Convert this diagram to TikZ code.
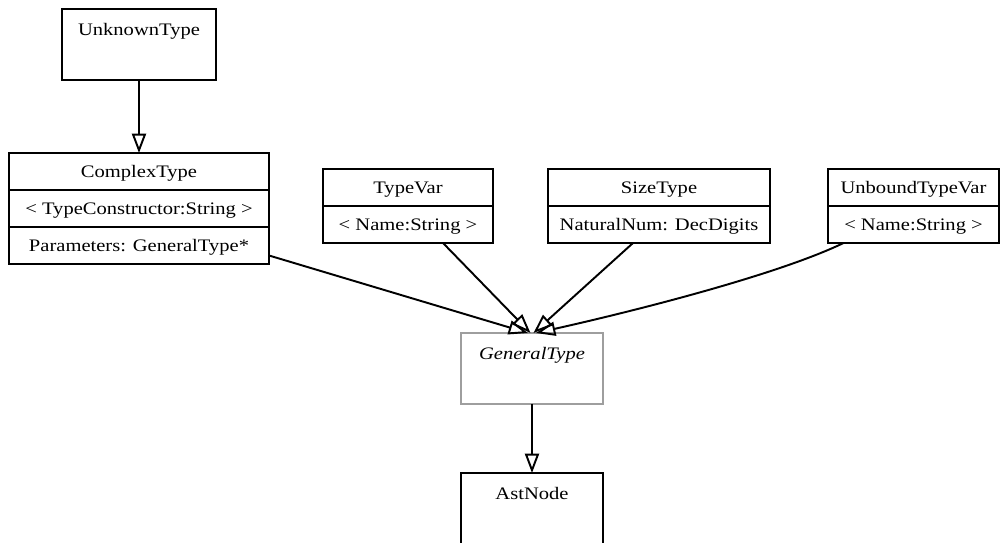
\documentclass[tikz,border=0pt]{standalone}
\usepackage{fontspec}
\setmainfont{Liberation Serif}[FakeStretch=1.17]
\usetikzlibrary{arrows.meta, shapes, positioning}
\definecolor{abstractgray}{gray}{0.62}

\tikzset{
  cls/.style={draw, line width=1.1pt, outer sep=0pt, inner ysep=0pt, text height=0.52cm, text depth=0.9cm, minimum width=#1},
  row/.style={draw, line width=1.1pt, outer sep=0pt, minimum height=0.74cm, text height=6.6pt, text depth=0pt, minimum width=#1},
  isa/.style={draw, line width=1.1pt, -{Triangle[open, length=11pt, width=8pt]}}
}

\begin{document}
\begin{tikzpicture}[x=0.02cm, y=-0.02cm]
\useasboundingbox (0,0) rectangle (1000,542);
\node[cls=3.08cm, anchor=north] (unknown) at (139,9) {UnknownType};
\node[row=5.2cm, anchor=north] (complex) at (139,153) {ComplexType};
\node[row=5.2cm, below=0pt of complex] (ctcons) {< TypeConstructor:String >};
\node[row=5.2cm, below=0pt of ctcons] (ctparams) {Parameters: GeneralType*};
\node[row=3.4cm, anchor=north] (typevar) at (408,169) {TypeVar};
\node[row=3.4cm, below=0pt of typevar] (tvname) {< Name:String >};
\node[row=4.44cm, anchor=north] (sizetype) at (659,169) {SizeType};
\node[row=4.44cm, below=0pt of sizetype] (stdigits) {NaturalNum: DecDigits};
\node[row=3.42cm, anchor=north] (unbound) at (913.5,169) {UnboundTypeVar};
\node[row=3.42cm, below=0pt of unbound] (ubname) {< Name:String >};
\node[cls=2.84cm, anchor=north, draw=abstractgray, font=\itshape] (general) at (532,333) {GeneralType};
\node[cls=2.84cm, anchor=north] (astnode) at (532,473) {AstNode};
\draw [isa] (unknown) -- (complex);
\draw [isa] ([yshift=-0.2cm]ctparams.east) -- ([xshift=-0.08cm]general.north);
\draw [isa] ([xshift=0.7cm]tvname.south) -- ([xshift=-0.03cm]general.north);
\draw [isa] ([xshift=-0.52cm]stdigits.south) -- ([xshift=0.03cm]general.north);
\draw [isa] ([xshift=-1.4cm]ubname.south) .. controls +(-64,31) and +(103,-23) .. ([xshift=0.08cm]general.north);
\draw [isa] (general) -- (astnode);
\end{tikzpicture}
\end{document}
